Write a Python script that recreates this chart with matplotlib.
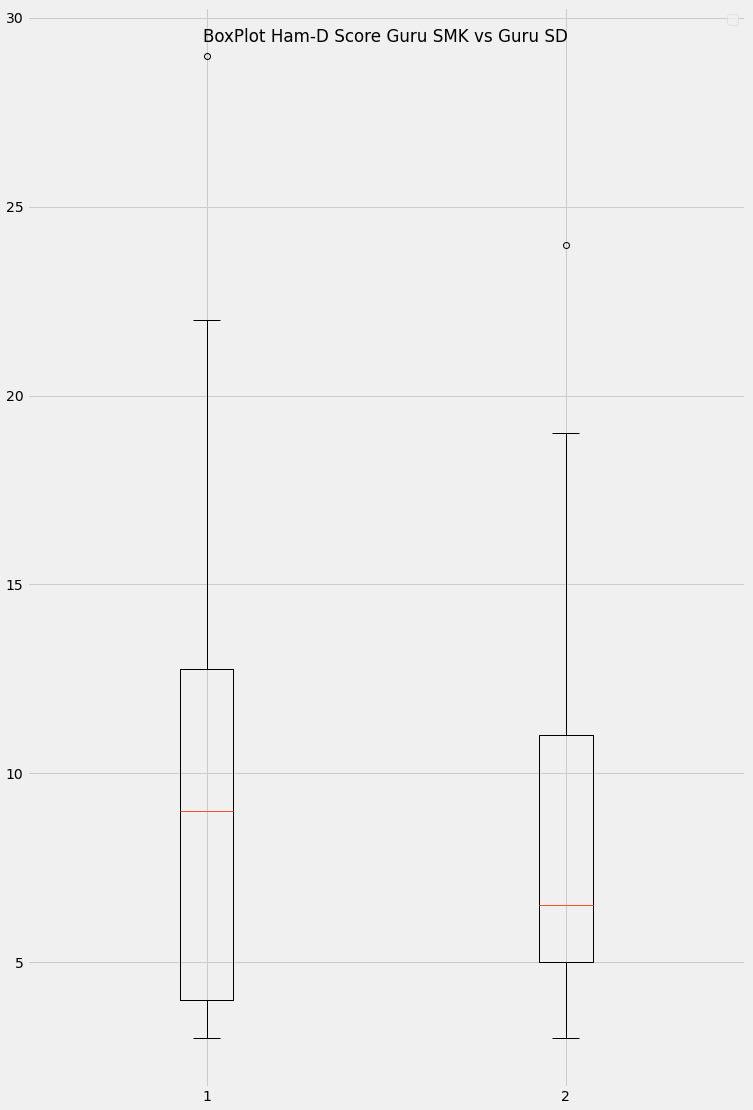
import matplotlib
matplotlib.use('Agg')
import matplotlib.pyplot as plt

plt.style.use('fivethirtyeight')

# box statistics
groups = ['1', '2']
whislo = [3, 3]
q1 = [4, 5]
med = [9, 6.5]
q3 = [12.75, 11]
whishi = [22, 19]
fliers = [[29], [24]]

stats = []
for i in range(len(groups)):
    stats.append({'label': groups[i], 'whislo': whislo[i], 'q1': q1[i],
                  'med': med[i], 'q3': q3[i], 'whishi': whishi[i],
                  'fliers': fliers[i]})

fig = plt.figure(figsize=(753 / 72, 1110 / 72), dpi=72)
ax = fig.add_axes([0.0358, 0.021, 0.954, 0.973])
ax.bxp(stats, widths=0.15)
ax.set_xlim(0.5, 2.5)
ax.set_ylim(1.7, 30.3)
ax.set_yticks([5, 10, 15, 20, 25, 30])
ax.legend(handles=[], labels=[])

fig.text(0.512, 0.9665, 'BoxPlot Ham-D Score Guru SMK vs Guru SD',
         ha='center', va='center', fontsize=16.8)

fig.savefig('out.png', dpi=72)
